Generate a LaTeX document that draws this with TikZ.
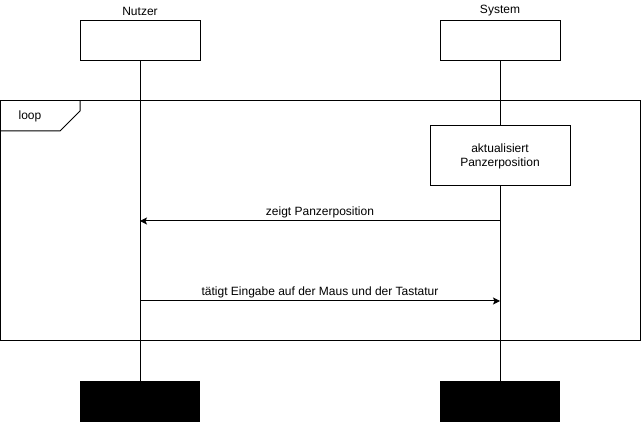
\documentclass[tikz,border=0pt]{standalone}
\usepackage{fontspec}
\setmainfont{Liberation Sans}
\usetikzlibrary{arrows.meta,positioning,calc}

\begin{document}
\begin{tikzpicture}[
	x=1pt, y=-1pt,
	every node/.style={font=\fontsize{12}{14}\selectfont},
	head/.style={draw, line width=1pt, fill=white, minimum width=120pt, minimum height=40pt, inner sep=0pt},
	tail/.style={fill=black, minimum width=120pt, minimum height=41pt, inner sep=0pt},
	life/.style={line width=1pt},
	act/.style={draw, line width=1pt, fill=white, minimum width=140pt, minimum height=60pt, align=center, inner sep=0pt},
	msg/.style={line width=1pt, -{Stealth[length=7pt,width=7pt,inset=1.5pt]}},
	lab/.style={inner sep=1pt, anchor=south}
	]
	
	\useasboundingbox (0,0) rectangle (641,422);
	
	% --------------------------------------------------------------------
	% participants
	% --------------------------------------------------------------------
	\node (nutzername) at (140,11) {Nutzer};
	\node (systemname) at (500,11) {System};
	
	\node[head] (nutzer) at (140,41) {};
	\node[head] (system) at (500,41) {};
	
	\node[tail] (nutzerend) at (140,401.5) {};
	\node[tail] (systemend) at (500,401.5) {};
	
	% lifelines
	\draw[life] (nutzer.south)--(nutzerend.north);
	\draw[life] (system.south)--(systemend.north);
	
	% --------------------------------------------------------------------
	% loop frame
	% --------------------------------------------------------------------
	\node[draw, line width=1pt, minimum width=640pt, minimum height=240pt, inner sep=0pt] (frame) at (320,221) {};
	\draw[line width=1pt] (80,101)--(80,111)--(60,131)--(0,131);
	\node (looplab) at (30,116.5) {loop};
	
	% activation
	\node[act] (update) at (500,156) {aktualisiert\\Panzerposition};
	
	% --------------------------------------------------------------------
	% messages
	% --------------------------------------------------------------------
	\coordinate (s1) at (500,221);
	\coordinate (n1) at (140,221);
	\coordinate (n2) at (140,301);
	\coordinate (s2) at (500,301);
	
	\draw[msg] (s1)--(n1) node[lab, midway, yshift=1.5pt] {zeigt Panzerposition};
	\draw[msg] (n2)--(s2) node[lab, midway, yshift=1.5pt] {tätigt Eingabe auf der Maus und der Tastatur};
	
\end{tikzpicture}
\end{document}
